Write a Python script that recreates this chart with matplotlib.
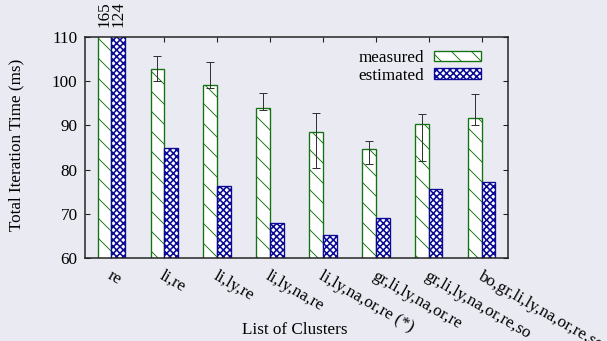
import matplotlib
matplotlib.use("Agg")
import matplotlib.pyplot as plt
import matplotlib.transforms as mtransforms
import numpy as np

categories = ["re", "li,re", "li,ly,re", "li,ly,na,re", "li,ly,na,or,re (*)",
              "gr,li,ly,na,or,re", "gr,li,ly,na,or,re,so", "bo,gr,li,ly,na,or,re,so"]
measured = [165, 102.7, 99.1, 94.0, 88.4, 84.6, 90.3, 91.6]
measured_lo = [165, 100.0, 98.4, 93.5, 80.3, 81.2, 82.0, 90.1]
measured_hi = [165, 105.8, 104.3, 97.4, 92.7, 86.4, 92.5, 97.1]
estimated = [124, 85.0, 76.3, 67.9, 65.1, 69.0, 75.6, 77.3]
yticks = [60, 70, 80, 90, 100, 110]

DPI = 60
W, H = 607, 341
bg = "#eaeaf2"
green = "#137313"
blue = "#0a0a96"
FS = 20.5

plt.rcParams["font.family"] = ["Liberation Serif", "DejaVu Serif"]
plt.rcParams["hatch.linewidth"] = 1.1

fig = plt.figure(figsize=(W / DPI, H / DPI), dpi=DPI, facecolor=bg)
ax = fig.add_axes([85 / W, (H - 258) / H, (508 - 85) / W, (258 - 37) / H])
ax.set_facecolor(bg)

x = np.arange(len(categories))
bw = 0.26
m_bars = ax.bar(x - bw / 2, measured, bw, facecolor="white", edgecolor=green,
                hatch="\\", linewidth=1.6, label="measured", zorder=2)
e_bars = ax.bar(x + bw / 2, estimated, bw, facecolor="white", edgecolor=blue,
                hatch="xxx", linewidth=1.6, label="estimated", zorder=2)
try:
    for p in e_bars:
        p.set_hatch_linewidth(1.9)
except Exception:
    pass

m = np.array(measured)
yerr = np.array([m - np.array(measured_lo), np.array(measured_hi) - m])
ax.errorbar(x - bw / 2, m, yerr=yerr, fmt="none", ecolor="#333333",
            elinewidth=1.2, capsize=4.5, capthick=1.2, zorder=3)

ax.set_xlim(-0.5, len(categories) - 0.5)
ax.set_ylim(60, 110)
ax.set_yticks(yticks)
ax.set_xticks(x)
ax.set_xticklabels([])
ax.tick_params(axis="both", direction="in", length=6, width=1.3, color="#222222",
               labelsize=FS, top=True, right=True)
ax.tick_params(axis="y", pad=9)
for sp in ax.spines.values():
    sp.set_linewidth(1.8)
    sp.set_color("#222222")

# rotated category labels
off = mtransforms.ScaledTranslation(0, -10 / DPI, fig.dpi_scale_trans)
trans = mtransforms.blended_transform_factory(ax.transData, ax.transAxes) + off
for xi, lab in zip(x, categories):
    ax.text(xi + 0.02, 0, lab, transform=trans, rotation=-30, rotation_mode="anchor",
            ha="left", va="top", fontsize=FS)

# clipped value annotations
off2 = mtransforms.ScaledTranslation(0, 10 / DPI, fig.dpi_scale_trans)
trans2 = mtransforms.blended_transform_factory(ax.transData, ax.transAxes) + off2
for xi, (mv, ev) in enumerate(zip(measured, estimated)):
    if mv > 110:
        ax.text(xi - bw / 2, 1, f"{mv:g}", transform=trans2, rotation=90,
                ha="center", va="bottom", fontsize=FS)
    if ev > 110:
        ax.text(xi + bw / 2, 1, f"{ev:g}", transform=trans2, rotation=90,
                ha="center", va="bottom", fontsize=FS)

fig.text(16 / W, 1 - 145 / H, "Total Iteration Time (ms)", rotation=90,
         ha="center", va="center", fontsize=FS)
fig.text(295 / W, 1 - 330 / H, "List of Clusters", ha="center", va="center", fontsize=FS)

leg = ax.legend(loc="upper right", bbox_to_anchor=(1 - 20 / 423, 1 - 6 / 221),
                frameon=False, markerfirst=False, fontsize=FS,
                handlelength=2.75, handleheight=0.55, labelspacing=0.1,
                handletextpad=0.6, borderaxespad=0)
try:
    leg.legend_handles[1].set_hatch_linewidth(1.9)
except Exception:
    pass

fig.savefig("out.png", dpi=DPI, facecolor=bg)
